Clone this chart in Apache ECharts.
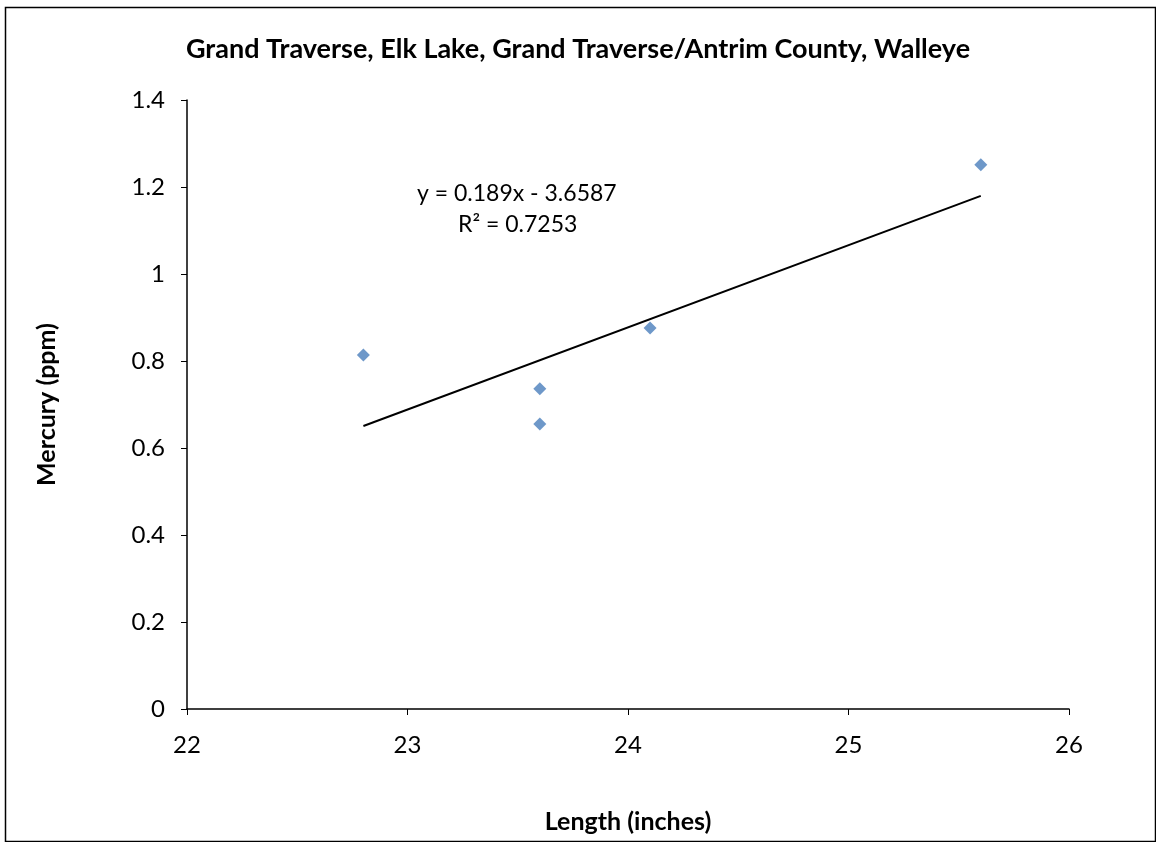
<!DOCTYPE html>
<html><head><meta charset="utf-8">
<script src="https://cdn.jsdelivr.net/npm/echarts@6/dist/echarts.min.js"></script>
<style>html,body{margin:0;padding:0;background:#fff;}#c{width:1156px;height:842px;}</style>
</head><body><div id="c"></div>
<script>
const titleText = 'Grand Traverse, Elk Lake, Grand Traverse/Antrim County, Walleye';
const xName = 'Length (inches)';
const yName = 'Mercury (ppm)';
const lengths = [22.8, 23.6, 23.6, 24.1, 25.6];
const mercury = [0.814, 0.736, 0.655, 0.876, 1.251];
const slope = [0.189];
const intercept = [-3.6587];
const r2 = ['0.7253'];
const FONT = 'Lato, "Open Sans", sans-serif';

const pts = lengths.map((x, i) => [x, mercury[i]]);
const xmin = Math.min(...lengths), xmax = Math.max(...lengths);
const trend = [[xmin, slope[0] * xmin + intercept[0]], [xmax, slope[0] * xmax + intercept[0]]];

const chart = echarts.init(document.getElementById('c'));
chart.setOption({
  animation: false,
  backgroundColor: '#fff',
  title: {text: titleText, left: 'center', top: 31,
    textStyle: {fontFamily: FONT, fontSize: 27, fontWeight: 'bold', color: '#000'}},
  grid: {left: 187, right: 87, top: 100, bottom: 133},
  xAxis: {type: 'value', min: 22, max: 26, interval: 1,
    name: xName, nameLocation: 'middle', nameGap: 100,
    nameTextStyle: {fontFamily: FONT, fontSize: 25, fontWeight: 'bold', color: '#000'},
    axisLine: {lineStyle: {color: '#000', width: 1.5}},
    axisTick: {show: true, length: 6, lineStyle: {color: '#000'}},
    axisLabel: {fontFamily: FONT, fontSize: 24, color: '#000', margin: 24},
    splitLine: {show: false}},
  yAxis: {type: 'value', min: 0, max: 1.4, interval: 0.2,
    name: yName, nameLocation: 'middle', nameGap: 128, nameRotate: 90,
    nameTextStyle: {fontFamily: FONT, fontSize: 25, fontWeight: 'bold', color: '#000'},
    axisLine: {show: true, lineStyle: {color: '#000', width: 1.5}},
    axisTick: {show: true, length: 6, lineStyle: {color: '#000'}},
    axisLabel: {fontFamily: FONT, fontSize: 24, color: '#000', margin: 22,
      formatter: v => String(Math.round(v * 10) / 10)},
    splitLine: {show: false}},
  graphic: [
    {type: 'rect', left: 3, top: 5, shape: {width: 1150, height: 834},
      style: {fill: 'none', stroke: '#000', lineWidth: 1.5}, silent: true},
    {type: 'text', left: 417, top: 182, style: {text: 'y = 0.189x - 3.6587', font: '23px ' + FONT, fill: '#000'}},
    {type: 'text', left: 458, top: 213, style: {text: 'R² = ' + r2[0], font: '23px ' + FONT, fill: '#000'}}
  ],
  series: [
    {type: 'scatter', data: pts, symbol: 'diamond', symbolSize: 13,
      itemStyle: {color: '#4a7ebb'}, z: 3},
    {type: 'line', data: trend, symbol: 'none', lineStyle: {color: '#000', width: 2}, z: 2}
  ]
});
</script></body></html>
